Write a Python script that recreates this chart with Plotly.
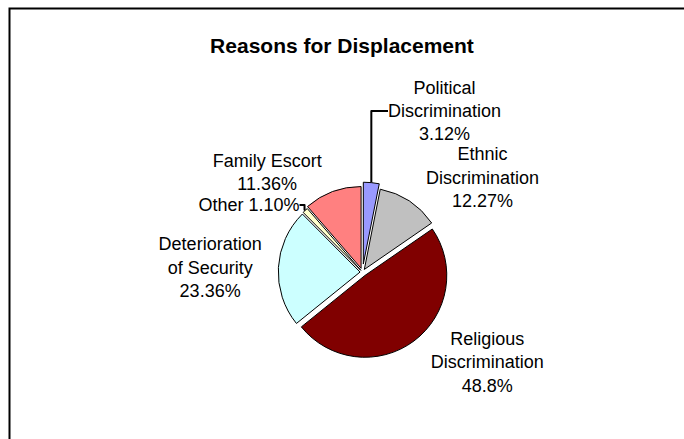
import plotly.graph_objects as go

categories = ["Political Discrimination", "Ethnic Discrimination", "Religious Discrimination",
              "Deterioration of Security", "Other", "Family Escort"]
label_text = ["Political<br>Discrimination<br>3.12%", "Ethnic<br>Discrimination<br>12.27%",
              "Religious<br>Discrimination<br>48.8%", "Deterioration<br>of Security<br>23.36%",
              "Other 1.10%", "Family Escort<br>11.36%"]
values = [3.12, 12.27, 48.8, 23.36, 1.10, 11.36]
colors = ["#9999FF", "#C0C0C0", "#800000", "#CCFFFF", "#FFFFCC", "#FF8080"]
pulls = [0.10, 0.04, 0.05, 0.03, 0.03, 0.05]

fig = go.Figure(go.Pie(
    labels=categories,
    values=values,
    text=label_text,
    texttemplate="%{text}",
    textposition="outside",
    sort=False,
    direction="clockwise",
    rotation=0,
    pull=pulls,
    marker=dict(colors=colors, line=dict(color="black", width=1)),
    textfont=dict(family="Liberation Sans, Arial", size=18, color="black"),
    domain=dict(x=[0.29, 0.77], y=[0.175, 0.585]),
    showlegend=False,
    hoverinfo="label+percent",
))

fig.update_layout(
    width=684, height=439,
    margin=dict(l=0, r=0, t=0, b=0, autoexpand=False),
    paper_bgcolor="white",
    title=dict(text="<b>Reasons for Displacement</b>", x=0.5, xanchor="center",
               y=1 - 46/439, yanchor="middle",
               font=dict(family="Liberation Sans, Arial", size=21, color="black")),
    shapes=[dict(type="rect", xref="paper", yref="paper",
                 x0=9.5/684, x1=1.05, y0=-0.05, y1=1 - 8.5/439,
                 line=dict(color="black", width=2), fillcolor="rgba(0,0,0,0)")],
)

fig.write_html("out.html")
